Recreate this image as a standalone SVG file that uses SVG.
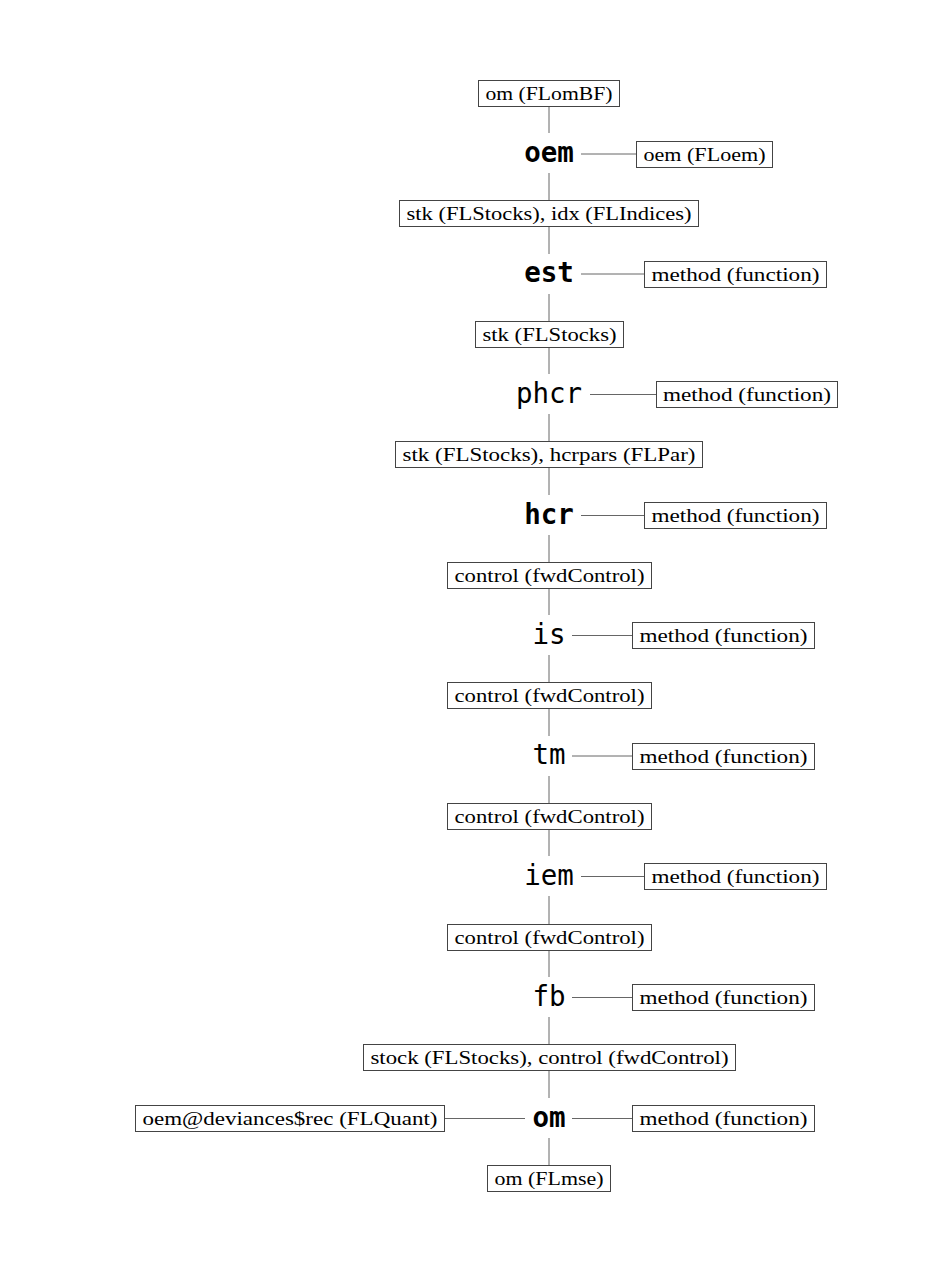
<svg xmlns="http://www.w3.org/2000/svg" width="951" height="1273" viewBox="0 0 951 1273">
<style>
.box rect{fill:#fff;stroke:#444;stroke-width:1}
.box text{font-family:"Liberation Serif",serif;font-size:18px;fill:#000;text-anchor:middle}
.fn text{font-family:"DejaVu Sans Mono",monospace;font-size:27.5px;fill:#000;text-anchor:middle}
.fn.b text{font-weight:bold}
#edges line{stroke:#666;stroke-width:1}
</style>
<rect width="951" height="1273" fill="#fff"/>
<g id="edges">
<line x1="549" y1="107" x2="549" y2="133"/>
<line x1="549" y1="173" x2="549" y2="200"/>
<line x1="581" y1="154" x2="636" y2="154"/>
<line x1="549" y1="227" x2="549" y2="254"/>
<line x1="549" y1="294" x2="549" y2="321"/>
<line x1="581" y1="274" x2="644" y2="274"/>
<line x1="549" y1="348" x2="549" y2="374"/>
<line x1="549" y1="414" x2="549" y2="441"/>
<line x1="590" y1="394.5" x2="656" y2="394.5"/>
<line x1="549" y1="468" x2="549" y2="495"/>
<line x1="549" y1="535" x2="549" y2="562"/>
<line x1="581" y1="515.5" x2="644" y2="515.5"/>
<line x1="549" y1="589" x2="549" y2="615"/>
<line x1="549" y1="655" x2="549" y2="682"/>
<line x1="572" y1="635.5" x2="632" y2="635.5"/>
<line x1="549" y1="709" x2="549" y2="736"/>
<line x1="549" y1="776" x2="549" y2="803"/>
<line x1="572" y1="756" x2="632" y2="756"/>
<line x1="549" y1="830" x2="549" y2="856"/>
<line x1="549" y1="896" x2="549" y2="924"/>
<line x1="581" y1="876.5" x2="644" y2="876.5"/>
<line x1="549" y1="951" x2="549" y2="977"/>
<line x1="549" y1="1017" x2="549" y2="1044"/>
<line x1="572" y1="997.5" x2="632" y2="997.5"/>
<line x1="549" y1="1071" x2="549" y2="1098"/>
<line x1="549" y1="1138" x2="549" y2="1165"/>
<line x1="572" y1="1118.5" x2="632" y2="1118.5"/>
<line x1="444" y1="1118.5" x2="525" y2="1118.5"/>
</g>
<g id="n_om_FLomBF" class="box"><rect x="478.5" y="80.5" width="141" height="26"/><text x="549" y="100" textLength="127" lengthAdjust="spacingAndGlyphs">om (FLomBF)</text></g>
<g id="f_oem" class="fn b"><text x="549" y="162">oem</text></g>
<g id="n_oem_FLoem" class="box"><rect x="636.5" y="141.5" width="136" height="26"/><text x="704.5" y="161" textLength="122" lengthAdjust="spacingAndGlyphs">oem (FLoem)</text></g>
<g id="n_stk_idx" class="box"><rect x="399.5" y="200.5" width="299" height="26"/><text x="549" y="220" textLength="285" lengthAdjust="spacingAndGlyphs">stk (FLStocks), idx (FLIndices)</text></g>
<g id="f_est" class="fn b"><text x="549" y="282">est</text></g>
<g id="n_est_method" class="box"><rect x="644.5" y="261.5" width="182" height="26"/><text x="735.5" y="281" textLength="168" lengthAdjust="spacingAndGlyphs">method (function)</text></g>
<g id="n_stk" class="box"><rect x="475.5" y="321.5" width="148" height="26"/><text x="549.5" y="341" textLength="134" lengthAdjust="spacingAndGlyphs">stk (FLStocks)</text></g>
<g id="f_phcr" class="fn"><text x="549" y="402.5">phcr</text></g>
<g id="n_phcr_method" class="box"><rect x="656.5" y="381.5" width="181" height="26"/><text x="747" y="401" textLength="168" lengthAdjust="spacingAndGlyphs">method (function)</text></g>
<g id="n_stk_hcrpars" class="box"><rect x="395.5" y="441.5" width="307" height="26"/><text x="549" y="461" textLength="293" lengthAdjust="spacingAndGlyphs">stk (FLStocks), hcrpars (FLPar)</text></g>
<g id="f_hcr" class="fn b"><text x="549" y="523.5">hcr</text></g>
<g id="n_hcr_method" class="box"><rect x="644.5" y="502.5" width="182" height="26"/><text x="735.5" y="522" textLength="168" lengthAdjust="spacingAndGlyphs">method (function)</text></g>
<g id="n_ctrl1" class="box"><rect x="447.5" y="562.5" width="204" height="26"/><text x="549.5" y="582" textLength="190" lengthAdjust="spacingAndGlyphs">control (fwdControl)</text></g>
<g id="f_is" class="fn"><text x="549" y="643.5">is</text></g>
<g id="n_is_method" class="box"><rect x="632.5" y="622.5" width="182" height="26"/><text x="723.5" y="642" textLength="168" lengthAdjust="spacingAndGlyphs">method (function)</text></g>
<g id="n_ctrl2" class="box"><rect x="447.5" y="682.5" width="204" height="26"/><text x="549.5" y="702" textLength="190" lengthAdjust="spacingAndGlyphs">control (fwdControl)</text></g>
<g id="f_tm" class="fn"><text x="549" y="764">tm</text></g>
<g id="n_tm_method" class="box"><rect x="632.5" y="743.5" width="182" height="26"/><text x="723.5" y="763" textLength="168" lengthAdjust="spacingAndGlyphs">method (function)</text></g>
<g id="n_ctrl3" class="box"><rect x="447.5" y="803.5" width="204" height="26"/><text x="549.5" y="823" textLength="190" lengthAdjust="spacingAndGlyphs">control (fwdControl)</text></g>
<g id="f_iem" class="fn"><text x="549" y="884.5">iem</text></g>
<g id="n_iem_method" class="box"><rect x="644.5" y="863.5" width="182" height="26"/><text x="735.5" y="883" textLength="168" lengthAdjust="spacingAndGlyphs">method (function)</text></g>
<g id="n_ctrl4" class="box"><rect x="447.5" y="924.5" width="204" height="26"/><text x="549.5" y="944" textLength="190" lengthAdjust="spacingAndGlyphs">control (fwdControl)</text></g>
<g id="f_fb" class="fn"><text x="549" y="1005.5">fb</text></g>
<g id="n_fb_method" class="box"><rect x="632.5" y="984.5" width="182" height="26"/><text x="723.5" y="1004" textLength="168" lengthAdjust="spacingAndGlyphs">method (function)</text></g>
<g id="n_stock_control" class="box"><rect x="363.5" y="1044.5" width="372" height="26"/><text x="549.5" y="1064" textLength="358" lengthAdjust="spacingAndGlyphs">stock (FLStocks), control (fwdControl)</text></g>
<g id="f_om" class="fn b"><text x="549" y="1126.5">om</text></g>
<g id="n_deviances" class="box"><rect x="135.5" y="1105.5" width="309" height="26"/><text x="290" y="1125" textLength="295" lengthAdjust="spacingAndGlyphs">oem@deviances$rec (FLQuant)</text></g>
<g id="n_om_method" class="box"><rect x="632.5" y="1105.5" width="182" height="26"/><text x="723.5" y="1125" textLength="168" lengthAdjust="spacingAndGlyphs">method (function)</text></g>
<g id="n_om_FLmse" class="box"><rect x="487.5" y="1165.5" width="123" height="26"/><text x="549" y="1185" textLength="109" lengthAdjust="spacingAndGlyphs">om (FLmse)</text></g>
</svg>
